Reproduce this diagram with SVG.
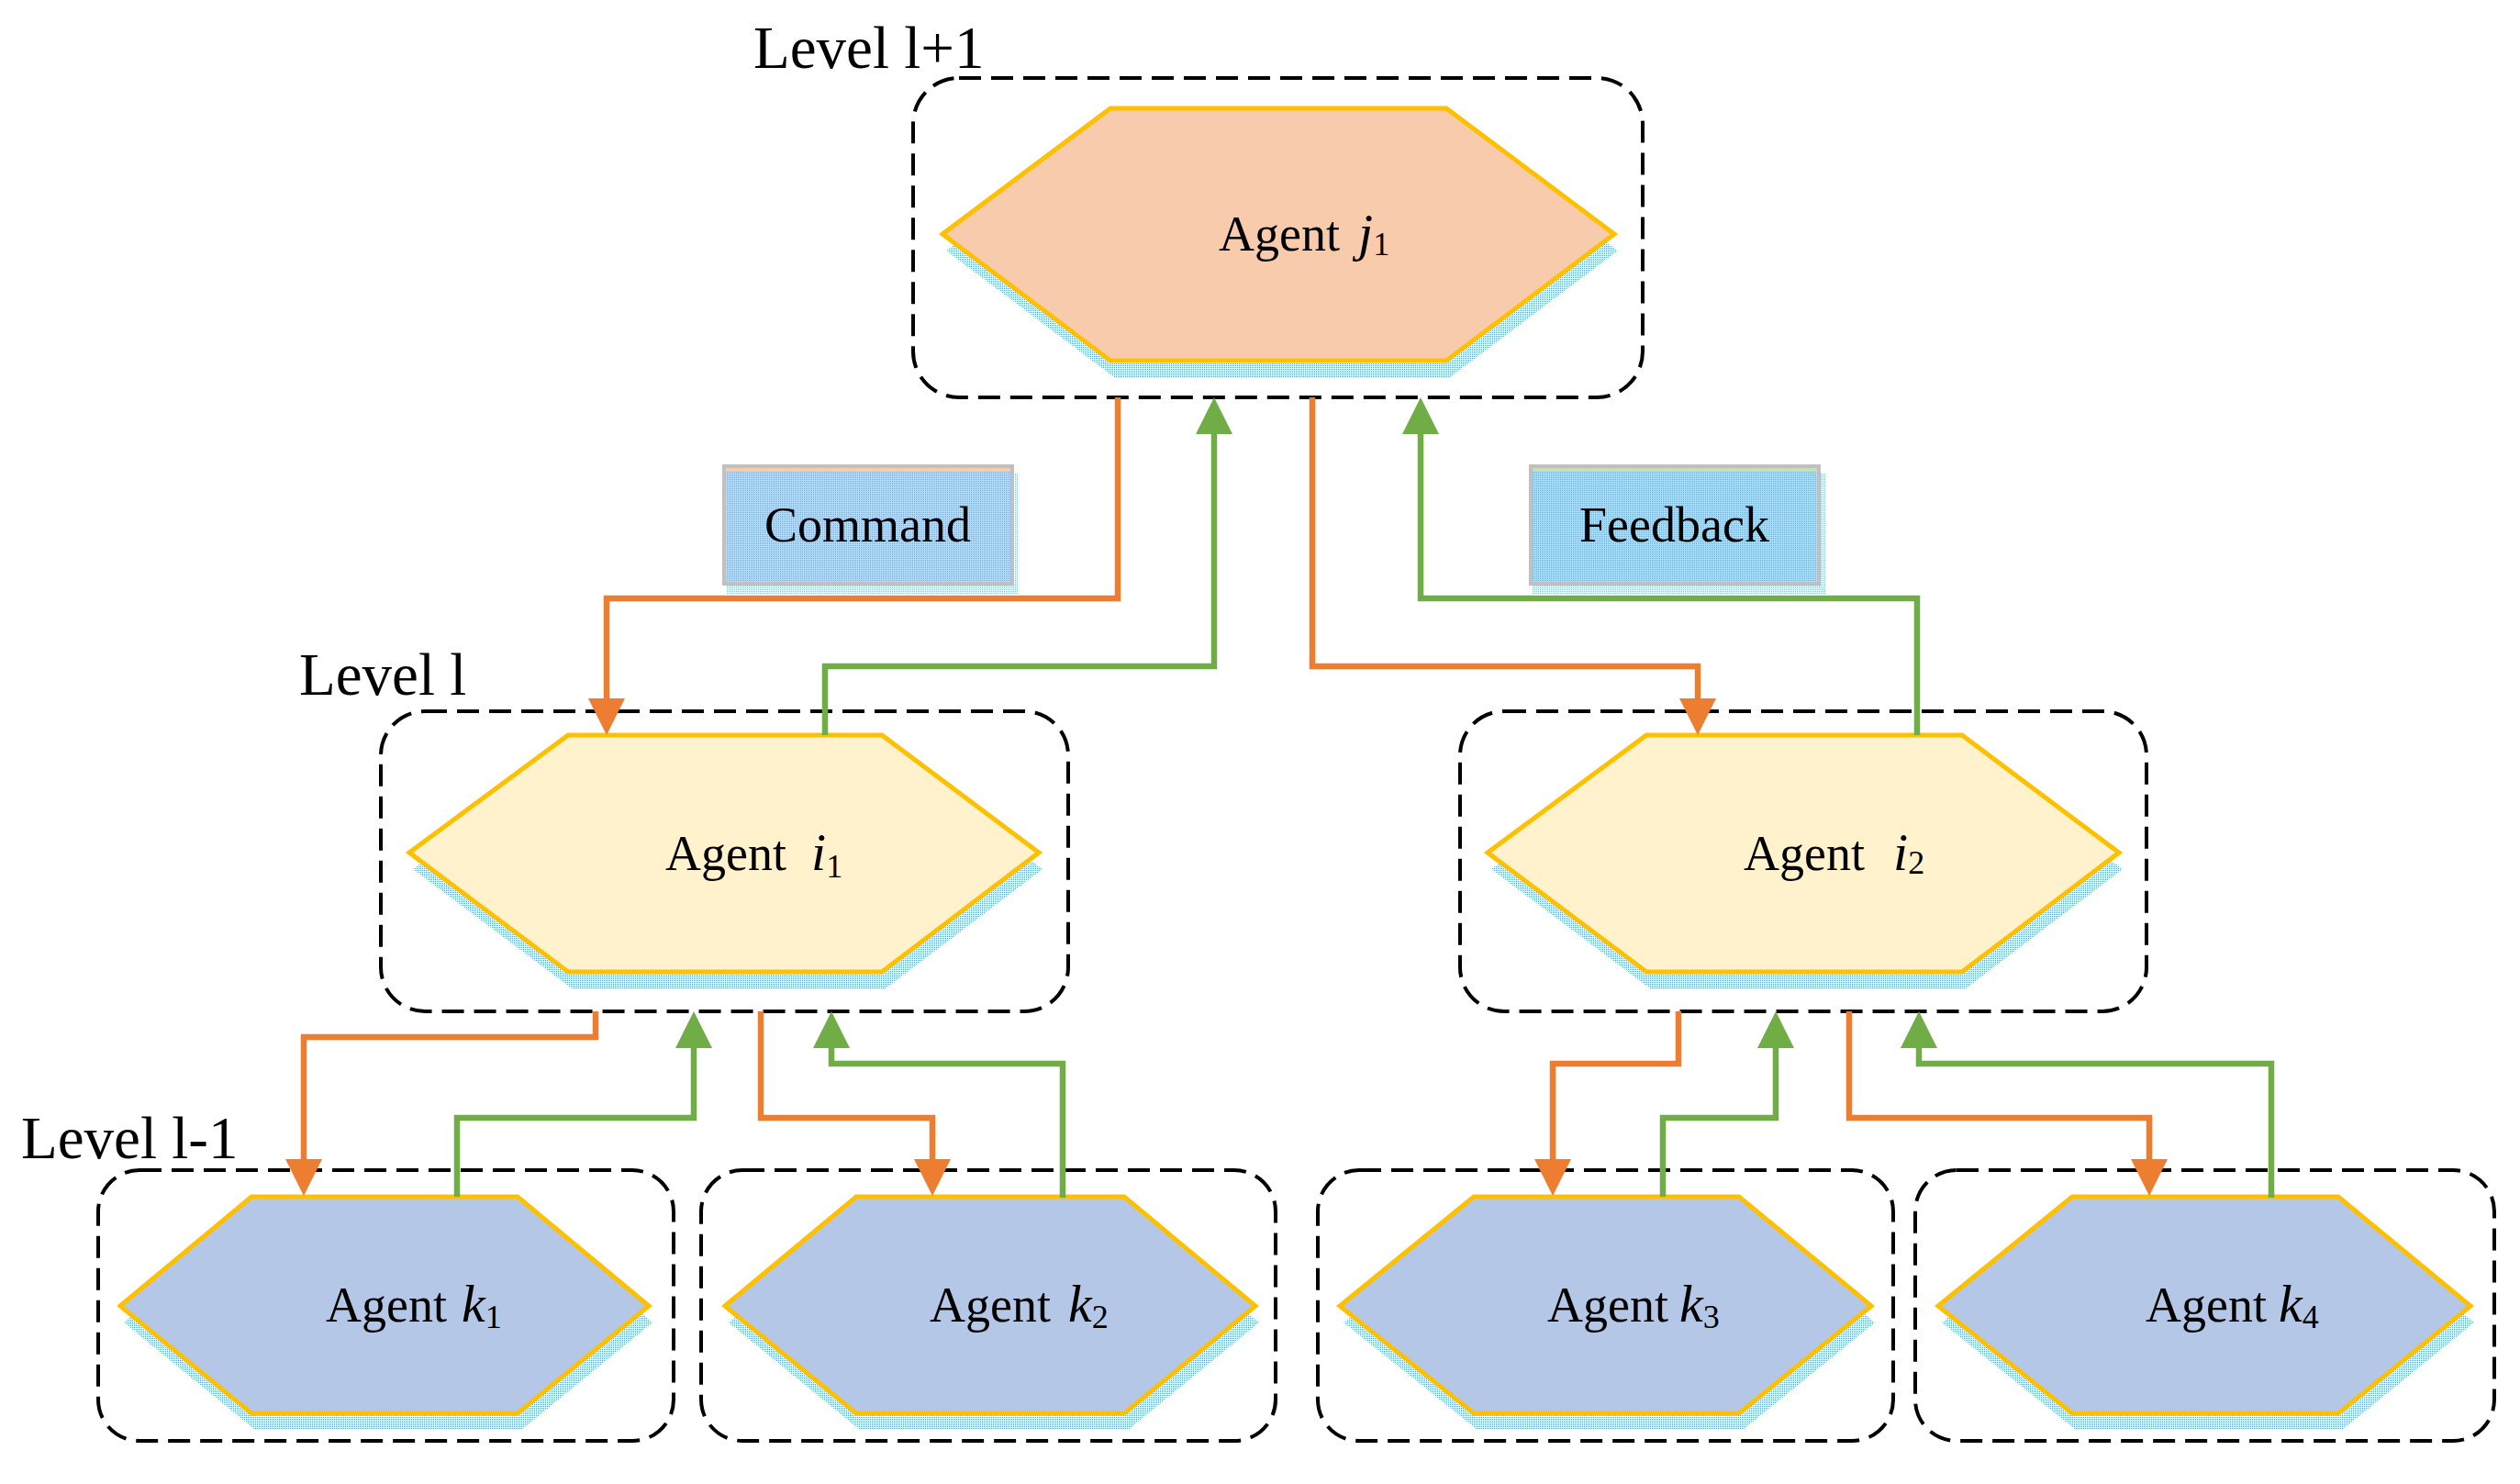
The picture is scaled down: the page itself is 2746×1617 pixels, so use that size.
<svg xmlns="http://www.w3.org/2000/svg" width="2746" height="1617" viewBox="0 0 2746 1617">
<style>
.lbl{font-family:"Liberation Serif","Times New Roman",serif;fill:#000}
.agent{font-size:54px}
.lvl{font-size:65px}
.var{font-style:italic;font-size:58px}
.sub{font-size:36px}
.frame{fill:none;stroke:#000;stroke-width:4;stroke-dasharray:24 11}
.hex{stroke:#FFC000;stroke-width:5;stroke-linejoin:miter}
.shadow{fill:url(#dots)}
.top{fill:#F8CBAD}
.mid{fill:#FFF2CC}
.low{fill:#B4C7E7}
.cmd{fill:none;stroke-width:6.5;stroke-linejoin:miter}
.orange{stroke:#ED7D31}
.green{stroke:#70AD47}
</style>
<defs>
<pattern id="dots" width="2" height="2" patternUnits="userSpaceOnUse">
<rect x="0" y="0" width="1" height="1" fill="#5B9BD5"/>
</pattern>
<marker id="arrO" viewBox="0 0 40 40" markerWidth="40" markerHeight="40" refX="0" refY="20" orient="auto" markerUnits="userSpaceOnUse">
<path d="M0 0 L40 20 L0 40 Z" fill="#ED7D31"/>
</marker>
<marker id="arrG" viewBox="0 0 40 40" markerWidth="40" markerHeight="40" refX="0" refY="20" orient="auto" markerUnits="userSpaceOnUse">
<path d="M0 0 L40 20 L0 40 Z" fill="#70AD47"/>
</marker>
</defs>
<rect width="2746" height="1617" fill="#fff"/>

<!-- level labels -->
<text class="lbl lvl" x="821" y="74">Level l+1</text>
<text class="lbl lvl" x="326" y="757">Level l</text>
<text class="lbl lvl" x="23" y="1262">Level l-1</text>

<!-- legend boxes -->
<g id="command">
<rect x="792" y="515" width="318" height="132" fill="url(#dots)" opacity="0.7"/>
<rect x="789" y="508" width="314" height="128" fill="#F8CBAD" stroke="#C0C0C0" stroke-width="4"/>
<rect x="791" y="514" width="310" height="120" fill="url(#dots)" opacity="0.8"/>
<text class="lbl agent" x="833" y="590">Command</text>
</g>
<g id="feedback">
<rect x="1670" y="515" width="320" height="132" fill="url(#dots)" opacity="0.7"/>
<rect x="1668" y="508" width="314" height="128" fill="#C5E0B4" stroke="#C0C0C0" stroke-width="4"/>
<rect x="1670" y="514" width="310" height="120" fill="url(#dots)" opacity="0.8"/>
<text class="lbl agent" x="1721" y="590">Feedback</text>
</g>

<!-- nodes -->
<g id="agent-j1">
<rect class="frame" x="995" y="85" width="795" height="348" rx="50" ry="50"/>
<polygon class="shadow" points="1031,273 1214,136 1580,136 1763,273 1580,411 1214,411"/>
<polygon class="hex top" points="1027,255 1210,118 1576,118 1759,255 1576,393 1210,393"/>
<text class="lbl agent" x="1328" y="273">Agent<tspan class="var" x="1480">j</tspan><tspan class="sub" dy="5">1</tspan></text>
</g>

<g id="agent-i1">
<rect class="frame" x="415" y="775" width="749" height="327" rx="48" ry="48"/>
<polygon class="shadow" points="450,947 623,819 965,819 1136,947 965,1077 623,1077"/>
<polygon class="hex mid" points="446,929 619,801 961,801 1132,929 961,1059 619,1059"/>
<text class="lbl agent" x="725" y="948">Agent<tspan class="var" x="884">i</tspan><tspan class="sub" dy="8">1</tspan></text>
</g>

<g id="agent-i2">
<rect class="frame" x="1591" y="775" width="748" height="327" rx="48" ry="48"/>
<polygon class="shadow" points="1625,947 1798,819 2142,819 2313,947 2142,1077 1798,1077"/>
<polygon class="hex mid" points="1621,929 1794,801 2138,801 2309,929 2138,1059 1794,1059"/>
<text class="lbl agent" x="1900" y="948">Agent<tspan class="var" x="2063">i</tspan><tspan class="sub" dy="4">2</tspan></text>
</g>

<g id="agent-k1">
<rect class="frame" x="107" y="1275" width="627" height="295" rx="45" ry="45"/>
<polygon class="shadow" points="135,1441 278,1322 568,1322 711,1441 568,1558 278,1558"/>
<polygon class="hex low" points="131,1423 274,1304 564,1304 707,1423 564,1540 274,1540"/>
<text class="lbl agent" x="355" y="1440">Agent<tspan class="var" x="503">k</tspan><tspan class="sub" dy="7">1</tspan></text>
</g>

<g id="agent-k2">
<rect class="frame" x="764" y="1275" width="626" height="295" rx="45" ry="45"/>
<polygon class="shadow" points="794,1441 937,1322 1229,1322 1372,1441 1229,1558 937,1558"/>
<polygon class="hex low" points="790,1423 933,1304 1225,1304 1368,1423 1225,1540 933,1540"/>
<text class="lbl agent" x="1013" y="1440">Agent<tspan class="var" x="1164">k</tspan><tspan class="sub" dy="7">2</tspan></text>
</g>

<g id="agent-k3">
<rect class="frame" x="1436" y="1275" width="627" height="295" rx="45" ry="45"/>
<polygon class="shadow" points="1464,1441 1610,1322 1899,1322 2043,1441 1899,1558 1610,1558"/>
<polygon class="hex low" points="1460,1423 1606,1304 1895,1304 2039,1423 1895,1540 1606,1540"/>
<text class="lbl agent" x="1686" y="1440">Agent<tspan class="var" x="1830">k</tspan><tspan class="sub" dy="7">3</tspan></text>
</g>

<g id="agent-k4">
<rect class="frame" x="2087" y="1275" width="631" height="295" rx="45" ry="45"/>
<polygon class="shadow" points="2116,1441 2262,1322 2552,1322 2696,1441 2552,1558 2262,1558"/>
<polygon class="hex low" points="2112,1423 2258,1304 2548,1304 2692,1423 2548,1540 2258,1540"/>
<text class="lbl agent" x="2338" y="1440">Agent<tspan class="var" x="2483">k</tspan><tspan class="sub" dy="7">4</tspan></text>
</g>

<!-- connectors -->
<g id="connectors">
<path class="cmd orange" d="M1218 433 V652 H661 V761" marker-end="url(#arrO)"/>
<path class="cmd green" d="M899 801 V726 H1323 V473" marker-end="url(#arrG)"/>
<path class="cmd orange" d="M1430 433 V726 H1850 V761" marker-end="url(#arrO)"/>
<path class="cmd green" d="M2089 801 V652 H1548 V473" marker-end="url(#arrG)"/>

<path class="cmd orange" d="M649 1102 V1130 H331 V1263" marker-end="url(#arrO)"/>
<path class="cmd green" d="M498 1304 V1218 H756 V1142" marker-end="url(#arrG)"/>
<path class="cmd orange" d="M829 1102 V1218 H1016 V1263" marker-end="url(#arrO)"/>
<path class="cmd green" d="M1158 1305 V1159 H906 V1142" marker-end="url(#arrG)"/>

<path class="cmd orange" d="M1829 1102 V1159 H1692 V1263" marker-end="url(#arrO)"/>
<path class="cmd green" d="M1812 1304 V1218 H1935 V1142" marker-end="url(#arrG)"/>
<path class="cmd orange" d="M2015 1102 V1218 H2342 V1263" marker-end="url(#arrO)"/>
<path class="cmd green" d="M2475 1305 V1159 H2091 V1142" marker-end="url(#arrG)"/>
</g>
</svg>
